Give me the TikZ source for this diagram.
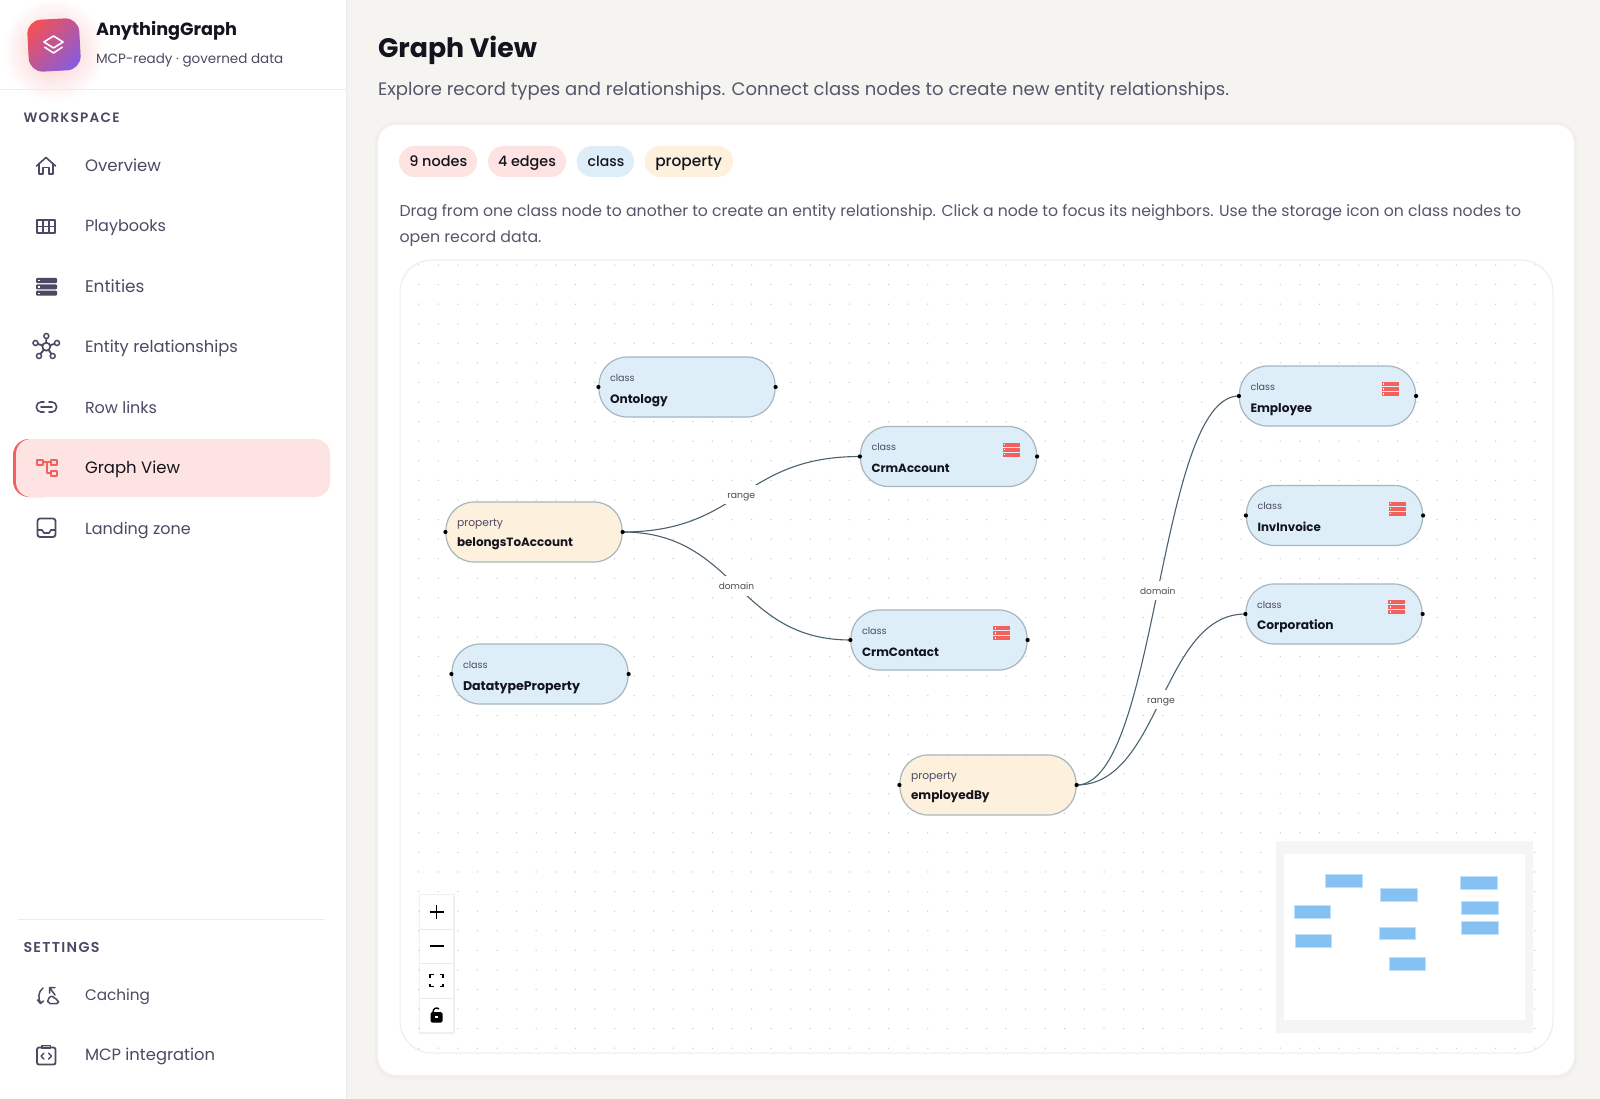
\documentclass[tikz,border=0pt]{standalone}
\usepackage{graphicx}
\usepackage{fontspec}
\setmainfont{Poppins}
\newfontfamily\preg{Poppins}
\newfontfamily\pmed{Poppins Medium}
\newfontfamily\psemi{Poppins SemiBold}
\newfontfamily\pbold{Poppins Bold}
\newfontfamily\pspaced[LetterSpace=9]{Poppins SemiBold}
\usetikzlibrary{calc}
\definecolor{pagebg}{HTML}{F5F4F1}
\definecolor{ink}{HTML}{14141E}
\definecolor{navc}{HTML}{4B4A63}
\definecolor{subc}{HTML}{55556B}
\definecolor{hair}{HTML}{ECECEC}
\definecolor{classf}{HTML}{DEEEF9}
\definecolor{propf}{HTML}{FDF0DC}
\definecolor{pinkf}{HTML}{FEE3E3}
\definecolor{redc}{HTML}{F4605C}
\definecolor{nodeb}{HTML}{A6B6BF}
\definecolor{edgec}{HTML}{4A6270}
\definecolor{mmf}{HTML}{85C1F2}
\definecolor{mmb}{HTML}{BFE0FA}
\definecolor{logoa}{HTML}{F0505A}
\definecolor{logob}{HTML}{8A5CD8}
\definecolor{glowc}{HTML}{FBC9C9}
\tikzset{
  txt/.style={anchor=base west,inner sep=0pt,outer sep=0pt},
  icon/.style={draw=navc,line width=1.6pt,line cap=round,line join=round},
  redicon/.style={draw=redc,line width=2pt,line join=round},
  ctl/.style={draw=black,line width=1.7pt,line cap=butt},
  classbox/.style={draw=nodeb,line width=1.2pt,fill=classf,rounded corners=28pt,minimum width=176pt,minimum height=60pt,inner sep=0pt},
  propbox/.style={classbox,fill=propf},
  edgeline/.style={draw=edgec,line width=1.1pt},
  edgelabel/.style={fill=white,inner xsep=2.5pt,inner ysep=3.5pt,text height=10pt,text depth=2.4pt,text=black!70},
  handle/.style={fill=black},
  mini/.style={fill=mmf,draw=mmb,line width=.8pt},
}
\newcommand\tx[6]{\node[txt,text=#5] (#1) at (#2,#3) {\resizebox{#4pt}{!}{#6}};}
\newcommand\dbicon[3]{%
  \foreach \dy in {0,5,10}{
    \fill[#3] (#1,#2+\dy) rectangle ++(17,4.2);
    \fill[white] (#1+1.5,#2+\dy+1.4) rectangle ++(1.3,1.3);
  }}
\newcommand\gnode[9]{% name,style,left,top,kind,kindw,title,titlew,icon
  \node[#2] (#1) at (#3+88,#4+30) {};
  \tx{#1k}{#3+11}{#4+24}{#6}{navc}{\preg #5}
  \tx{#1n}{#3+11}{#4+\nameoff}{#8}{ink}{\pbold #7}
  \ifx#9y\dbicon{#3+142}{#4+16}{redc}\fi
}
\newcommand\flowedge[5]{%
  \coordinate (#1m) at ($(#2.east)!.5!(#3.west)$);
  \draw[edgeline] (#2.east) .. controls (#1m |- #2.east) and (#1m |- #3.west) .. (#3.west);
  \node[edgelabel] (#1l) at (#1m) {\resizebox{#5pt}{!}{\preg #4}};
}
\newcommand\pillbox[7]{% name,left,right,fill,textleft,textw,text
  \path[fill=#4,rounded corners=15.5pt] (#2,146) rectangle (#3,177);
  \tx{#1}{#5}{166.7}{#6}{ink}{\pmed #7}
}
\begin{document}
\begin{tikzpicture}[x=1pt,y=-1pt]
\useasboundingbox (0,0) rectangle (1600,1099);
\fill[pagebg] (0,0) rectangle (1600,1099);
% sidebar
\fill[white] (0,0) rectangle (346,1099);
\draw[hair,line width=1pt] (346,0) -- (346,1099);
\begin{scope}
  \clip (0,0) rectangle (346,1099);
  \shade[inner color=glowc,outer color=white] (54,50) circle (52);
\end{scope}
\draw[hair,line width=1pt] (0,90) -- (346,90);
% logo
\begin{scope}[rotate around={3:(54,45)}]
  \shade[top color=logoa,bottom color=logob,shading angle=45,rounded corners=14pt]
    (28,19) rectangle (80,71);
\end{scope}
\draw[white,line width=1.6pt,line join=round] (53.5,36) -- (63,42) -- (53.5,48) -- (44,42) -- cycle;
\draw[white,line width=1.6pt,line join=round] (44.5,47) -- (53.5,53) -- (62.5,47);
\tx{brand}{96}{35.5}{141}{ink}{\pbold AnythingGraph}
\tx{brandsub}{96}{64}{187.3}{navc}{\preg MCP-ready · governed data}
\tx{wslabel}{23.5}{123}{96}{navc}{\pspaced WORKSPACE}
% active item
\path[fill=redc,rounded corners=16pt] (13,439) rectangle (60,497);
\path[fill=pinkf,rounded corners=15pt] (16,439) rectangle (330,497);
% nav labels
\tx{nav1}{85}{171.5}{76}{navc}{\preg Overview}
\tx{nav2}{85}{232}{81}{navc}{\preg Playbooks}
\tx{nav3}{85}{292.5}{59.5}{navc}{\preg Entities}
\tx{nav4}{85}{352.7}{153}{navc}{\preg Entity relationships}
\tx{nav5}{85}{413}{72}{navc}{\preg Row links}
\tx{nav6}{85}{473.5}{95}{ink}{\preg Graph View}
\tx{nav7}{85}{534}{105.7}{navc}{\preg Landing zone}
\draw[hair,line width=1pt] (18,919) -- (325,919);
\tx{setlabel}{23.5}{952}{76}{navc}{\pspaced SETTINGS}
\tx{nav8}{85}{1000}{65}{navc}{\preg Caching}
\tx{nav9}{85}{1060}{130}{navc}{\preg MCP integration}
% nav icons
\draw[icon] (36.5,166) -- (46,157.5) -- (55.5,166);
\draw[icon] (39,163.5) -- (39,174) -- (43,174) -- (43,167.5) -- (49,167.5) -- (49,174) -- (53,174) -- (53,163.5);
\draw[icon,line cap=butt,line width=1.8pt] (37,220) rectangle (55,233) (37,226.5) -- (55,226.5) (43,220) -- (43,233) (49,220) -- (49,233);
\foreach \yy in {278,284.3,290.6}{
  \path[fill=navc,rounded corners=1pt] (36,\yy) rectangle (57,\yy+5);
  \fill[white] (38,\yy+2) rectangle ++(1.6,1.4);
}
\draw[navc,line width=1.8pt] (46.3,346.7) -- (46.3,335.7) (46.3,346.7) -- (35,343) (46.3,346.7) -- (56.7,343) (46.3,346.7) -- (39,355.7) (46.3,346.7) -- (52.7,355.7);
\filldraw[fill=white,draw=navc,line width=1.7pt] (46.3,346.7) circle (4);
\foreach \cx/\cy in {46.3/336,35.5/343,57/343,39/356,52.7/356}{
  \filldraw[fill=white,draw=navc,line width=1.5pt] (\cx,\cy) circle (2.5);
}
\draw[icon,rounded corners=4.5pt] (44,402) -- (36.5,402) -- (36.5,412) -- (44,412);
\draw[icon,rounded corners=4.5pt] (49,402) -- (56.5,402) -- (56.5,412) -- (49,412);
\draw[icon] (41,407) -- (52,407);
\draw[redicon] (37,459.5) rectangle (42.5,465) (51,459.5) rectangle (56.5,465) (51,470.5) rectangle (56.5,476)
  (42.5,462) -- (51,462) (46.5,462) -- (46.5,473) -- (51,473);
\draw[icon,line width=1.8pt,rounded corners=2.5pt] (37.5,518.5) rectangle (55.5,537);
\draw[icon] (38,530) -- (42,530) -- (44,533) -- (49,533) -- (51,530) -- (55,530);
\draw[icon,line width=1.5pt] (43,988) .. controls (38,992) and (38,998) .. (40.5,1003) (37.5,1000) -- (40.5,1003.5) -- (43.5,1001);
\draw[icon,line width=1.5pt] (49.5,987.5) -- (55,987.5) (49.5,987.5) -- (49.5,993) (49.5,987.5) -- (55,995);
\draw[icon,line width=1.5pt,rounded corners=2pt] (48,1003.5) -- (47.5,999) -- (52,995.5) -- (55,999) -- (58.5,1000) -- (58.5,1003.5) -- cycle;
\draw[icon,line width=1.8pt,rounded corners=2pt] (37,1047.5) rectangle (55.5,1064.5);
\draw[icon,line width=1.3pt] (42,1045.5) rectangle (50.5,1048.5);
\draw[icon,line width=1.4pt] (44,1053) -- (41,1056) -- (44,1059) (48.5,1053) -- (51.5,1056) -- (48.5,1059);
% header
\tx{title}{378}{58}{159}{ink}{\pbold Graph View}
\tx{subtitle}{378}{96}{851}{subc}{\preg Explore record types and relationships. Connect class nodes to create new entity relationships.}
% card
\path[fill=black,opacity=.02,rounded corners=20pt] (375,122) rectangle (1577,1079);
\path[fill=white,rounded corners=18pt] (378,125) rectangle (1574,1075);
% pills
\pillbox{pilla}{399}{477}{pinkf}{409.3}{58}{9 nodes}
\pillbox{pillb}{488}{566}{pinkf}{498}{58}{4 edges}
\pillbox{pillc}{576.7}{634}{classf}{587.7}{36.7}{class}
\pillbox{pilld}{644.7}{733}{propf}{655.3}{66.7}{property}
\tx{para}{399.5}{216.7}{1121.5}{subc}{\preg Drag from one class node to another to create an entity relationship. Click a node to focus its neighbors. Use the storage icon on class nodes to}
\tx{parb}{399.5}{242.6}{142}{subc}{\preg open record data.}
% canvas
\path[draw=hair,line width=1pt,fill=white,rounded corners=32pt] (400,260) rectangle (1553,1053);
\begin{scope}
  \clip[rounded corners=32pt] (400,260) rectangle (1553,1053);
  \foreach \i in {0,...,57}{
    \foreach \j in {0,...,40}{
      \fill[black!20] (418.7+\i*19.58,265+\j*19.58) circle (.75);
    }
  }
\end{scope}
% graph nodes
\def\nameoff{46}
\gnode{onto}{classbox}{599}{357}{class}{24.7}{Ontology}{57.7}{n}
\gnode{acct}{classbox}{860.5}{426.5}{class}{24.7}{CrmAccount}{78.3}{y}
\gnode{cont}{classbox}{851}{610}{class}{24.7}{CrmContact}{77}{y}
\gnode{data}{classbox}{452}{644}{class}{24.7}{DatatypeProperty}{117}{n}
\gnode{empl}{classbox}{1239.5}{366}{class}{24.7}{Employee}{61.7}{y}
\gnode{invo}{classbox}{1246.5}{485.5}{class}{24.7}{InvInvoice}{63.3}{y}
\def\nameoff{45}
\gnode{corp}{classbox}{1246}{584}{class}{24.7}{Corporation}{76.7}{y}
\def\nameoff{44.5}
\gnode{belo}{propbox}{446}{502}{property}{46}{belongsToAccount}{116}{n}
\gnode{emby}{propbox}{900}{755}{property}{46}{employedBy}{78.6}{n}
% edges
\flowedge{ea}{belo}{acct}{range}{27.7}
\flowedge{eb}{belo}{cont}{domain}{35.3}
\flowedge{ec}{emby}{empl}{domain}{35.3}
\flowedge{ed}{emby}{corp}{range}{27.7}
% handles
\foreach \n in {onto,acct,cont,belo,data,empl,invo,corp,emby}{
  \fill[handle] (\n.west) circle (2.1);
  \fill[handle] (\n.east) circle (2.1);
}
% controls
\path[fill=black,opacity=.06] (418.5,893.5) rectangle (454.5,1034);
\fill[white] (420,895) rectangle (453,1032);
\draw[black!8,line width=1pt] (420,929) -- (453,929) (420,963.5) -- (453,963.5) (420,998) -- (453,998);
\draw[ctl] (436.5,904.5) -- (436.5,919) (429.5,911.7) -- (443.5,911.7);
\draw[ctl] (429.5,946) -- (443.5,946);
\draw[ctl,line width=1.5pt] (430,977.5) -- (430,974.5) -- (433.5,974.5) (439.5,974.5) -- (443,974.5) -- (443,977.5)
  (430,983.5) -- (430,986.5) -- (433.5,986.5) (439.5,986.5) -- (443,986.5) -- (443,983.5);
\path[fill=black,rounded corners=1.5pt] (430.5,1012) rectangle (442.5,1022.5);
\draw[black,line width=1.4pt] (433,1012) .. controls (433,1008) and (437,1007) .. (439,1009);
\fill[white] (435.3,1015.5) rectangle ++(2.6,2.6);
% minimap
\fill[black!4] (1276,841) rectangle (1533,1033);
\fill[white] (1284,854) rectangle (1525,1020);
\foreach \a/\b/\c/\d in {1325.3/874/1362.3/887,1380.3/888.3/1417.7/901,1460/876.7/1497/889.7,1294.3/905/1330.3/918,1295.7/934.7/1331.7/947.7,1379.3/927/1415/939.7,1389.3/957.7/1425.3/970.3,1461.3/901/1498.7/914,1461.3/921.7/1498.7/934.7}{
  \path[mini] (\a,\b) rectangle (\c,\d);
}
\end{tikzpicture}
\end{document}
